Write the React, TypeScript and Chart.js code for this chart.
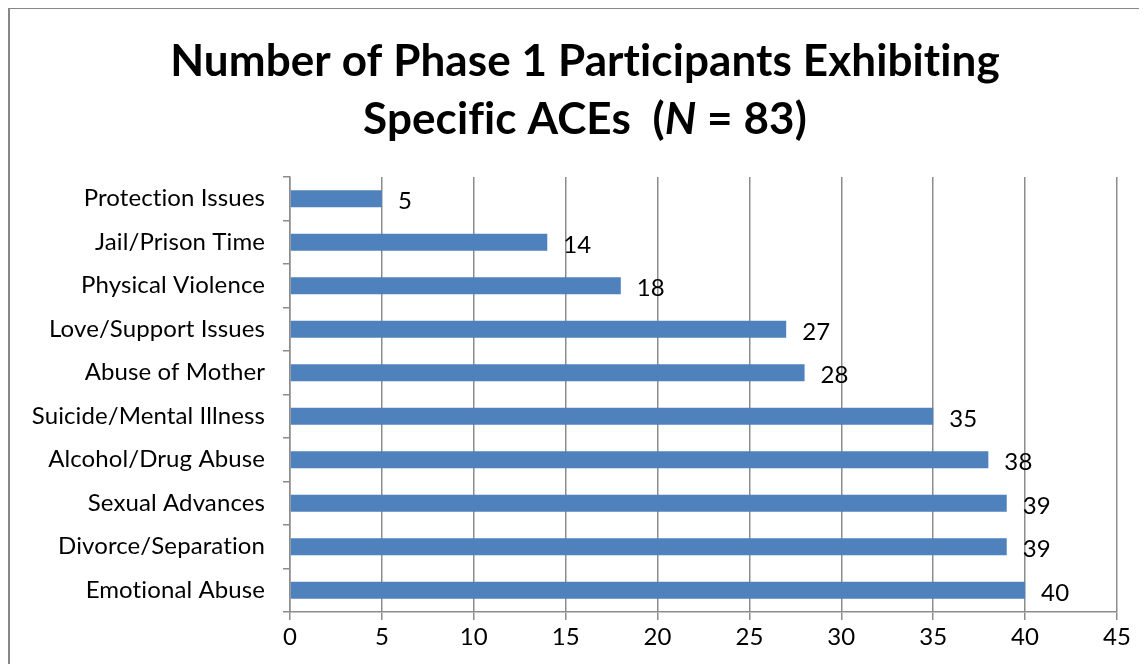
import React, { useEffect, useRef } from "react";
import { Chart, registerables } from "chart.js";

Chart.register(...registerables);

const categories = [
  "Protection Issues",
  "Jail/Prison Time",
  "Physical Violence",
  "Love/Support Issues",
  "Abuse of Mother",
  "Suicide/Mental Illness",
  "Alcohol/Drug Abuse",
  "Sexual Advances",
  "Divorce/Separation",
  "Emotional Abuse",
];
const counts = [5, 14, 18, 27, 28, 35, 38, 39, 39, 40];
const xMin = 0;
const xMax = 45;
const xStep = 5;
const titleLine1 = "Number of Phase 1 Participants Exhibiting";
const titleLine2 = [
  { text: "Specific ACEs  (", italic: false },
  { text: "N", italic: true },
  { text: " = 83)", italic: false },
];

const FONT = "Lato, 'Open Sans', sans-serif";

export default function App() {
  const ref = useRef<HTMLCanvasElement | null>(null);

  useEffect(() => {
    if (!ref.current) return;

    const noLigPlugin = {
      id: "noLigatures",
      beforeDraw(chart: any) {
        try {
          chart.ctx.letterSpacing = "0.1px";
        } catch (e) {}
      },
    };

    const titlePlugin = {
      id: "twoLineTitle",
      afterDraw(chart: any) {
        const ctx = chart.ctx;
        ctx.save();
        ctx.letterSpacing = "0.1px";
        ctx.fillStyle = "#000";
        ctx.textBaseline = "middle";
        const cx = 575;
        ctx.font = `bold 44px ${FONT}`;
        ctx.textAlign = "center";
        ctx.fillText(titleLine1, cx, 53);
        const widths = titleLine2.map((s) => {
          ctx.font = `${s.italic ? "italic " : ""}bold 44px ${FONT}`;
          return ctx.measureText(s.text).width;
        });
        const total = widths.reduce((a, b) => a + b, 0);
        let x = cx - total / 2;
        ctx.textAlign = "left";
        titleLine2.forEach((s, i) => {
          ctx.font = `${s.italic ? "italic " : ""}bold 44px ${FONT}`;
          ctx.fillText(s.text, x, 111);
          x += widths[i];
        });
        ctx.restore();
      },
    };

    const labelPlugin = {
      id: "valueLabels",
      afterDatasetsDraw(chart: any) {
        const ctx = chart.ctx;
        const meta = chart.getDatasetMeta(0);
        ctx.save();
        ctx.fillStyle = "#000";
        ctx.font = `24px ${FONT}`;
        ctx.textAlign = "left";
        ctx.textBaseline = "middle";
        meta.data.forEach((bar: any, i: number) => {
          ctx.fillText(String(counts[i]), bar.x + 16, bar.y + 3);
        });
        ctx.restore();
      },
    };

    const chart = new Chart(ref.current, {
      type: "bar",
      data: {
        labels: categories,
        datasets: [
          {
            data: counts,
            backgroundColor: "#4F81BD",
            borderColor: "#4F81BD",
            borderWidth: 0,
            barPercentage: 0.39,
            categoryPercentage: 1,
          },
        ],
      },
      options: {
        indexAxis: "y",
        animation: false,
        responsive: false,
        maintainAspectRatio: false,
        layout: { padding: { top: 168, right: 30, left: 0, bottom: 0 } },
        plugins: {
          legend: { display: false },
          title: { display: false },
          tooltip: { enabled: false },
        },
        scales: {
          x: {
            min: xMin,
            max: xMax,
            afterFit(scale: any) {
              scale.height = 52;
            },
            ticks: {
              stepSize: xStep,
              color: "#000",
              font: { family: FONT, size: 24 },
              padding: 3,
            },
            grid: {
              color: "#8c8c8c",
              lineWidth: 1.5,
              tickLength: 8,
            },
            border: { display: true, color: "#8c8c8c", width: 1.5 },
          },
          y: {
            afterFit(scale: any) {
              scale.width = 280;
            },
            ticks: {
              color: "#000",
              font: { family: FONT, size: 24 },
              padding: 18,
            },
            grid: {
              drawOnChartArea: false,
              color: "#8c8c8c",
              lineWidth: 1.5,
              tickLength: 7,
            },
            border: { display: true, color: "#8c8c8c", width: 1.5 },
          },
        },
      },
      plugins: [noLigPlugin, titlePlugin, labelPlugin],
    });

    return () => chart.destroy();
  }, []);

  return (
    <div
      style={{
        marginTop: -1,
        borderLeft: "2px solid #878787",
        borderTop: "2px solid #878787",
        width: 1137,
        height: 655,
        background: "#fff",
      }}
    >
      <canvas ref={ref} width={1137} height={655} style={{ display: "block" }} />
    </div>
  );
}
